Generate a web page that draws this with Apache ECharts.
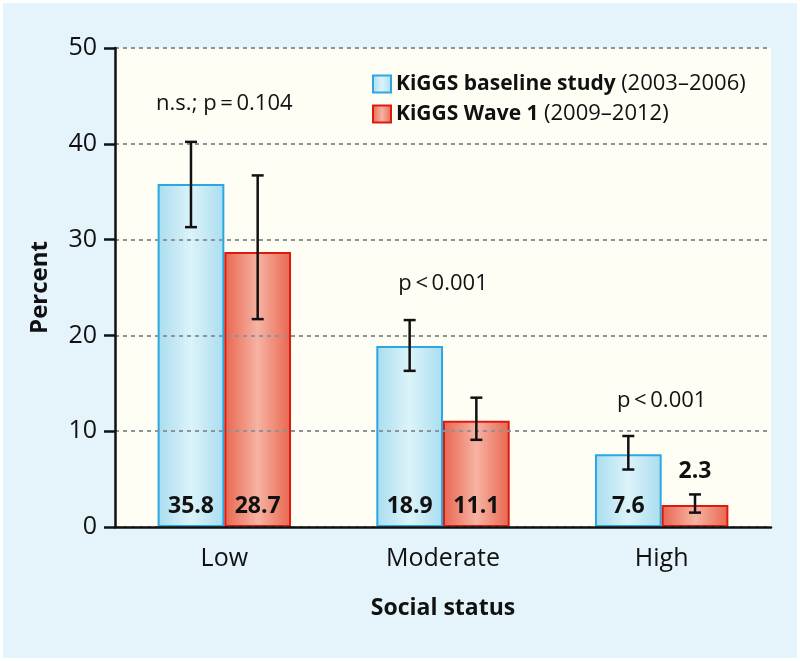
<!DOCTYPE html>
<html>
<head>
<meta charset="utf-8">
<script src="https://cdn.jsdelivr.net/npm/echarts@6/dist/echarts.min.js"></script>
<style>
  html, body { margin: 0; padding: 0; background: #fff; }
  #main { width: 800px; height: 661px; background: #e4f4fa; box-shadow: inset 0 0 0 3px #fff; }
</style>
</head>
<body>
<div id="main"></div>
<script>
const categorias = ['Low', 'Moderate', 'High'];
const baseline = [35.8, 18.9, 7.6];
const wave1 = [28.7, 11.1, 2.3];
// confidence intervals [low, high]
const baselineCI = [[31.3, 40.2], [16.3, 21.6], [6.0, 9.5]];
const wave1CI = [[21.7, 36.7], [9.1, 13.5], [1.5, 3.4]];
const yTicks = [0, 10, 20, 30, 40, 50];
const pTextos = ['n.s.; p\u2009=\u20090.104', 'p\u2009<\u20090.001', 'p\u2009<\u20090.001'];
const pAltura = [44.2, 25.4, 13.2];

const fonte = "'Open Sans', 'Noto Sans', sans-serif";
const gap = 0.39;

function gradiente(borda, centro) {
  return new echarts.graphic.LinearGradient(0, 0, 1, 0, [
    { offset: 0, color: borda },
    { offset: 0.5, color: centro },
    { offset: 1, color: borda }
  ]);
}

function barraErro(sinal) {
  return function (params, api) {
    const i = api.value(0);
    const banda = api.size([1, 0])[0];
    const off = sinal * banda * (1 - gap) / 4;
    const lo = api.coord([i, api.value(1)]);
    const hi = api.coord([i, api.value(2)]);
    const x = lo[0] + off;
    const cap = 6;
    const estilo = { stroke: '#111', lineWidth: 2.5, fill: null };
    return {
      type: 'group',
      children: [
        { type: 'line', shape: { x1: x, y1: lo[1], x2: x, y2: hi[1] }, style: estilo },
        { type: 'line', shape: { x1: x - cap, y1: lo[1], x2: x + cap, y2: lo[1] }, style: estilo },
        { type: 'line', shape: { x1: x - cap, y1: hi[1], x2: x + cap, y2: hi[1] }, style: estilo }
      ]
    };
  };
}

var myChart = echarts.init(document.getElementById('main'));
var option;

option = {
  textStyle: { fontFamily: fonte },
  animation: false,
  grid: {
    left: 115, right: 29, top: 48, bottom: 134,
    show: true, backgroundColor: '#fffef5', borderWidth: 0
  },
  legend: {
    orient: 'vertical',
    left: 367, top: 68,
    itemWidth: 18, itemHeight: 17, itemGap: 8,
    icon: 'rect',
    data: ['baseline', 'wave1'],
    formatter: function (n) {
      return n === 'baseline'
        ? '{b|KiGGS baseline study} {r|(2003\u20132006)}'
        : '{b|KiGGS Wave 1} {r|(2009\u20132012)}';
    },
    textStyle: {
      fontSize: 21,
      rich: {
        b: { fontFamily: fonte, fontWeight: 'bold', fontSize: 21, color: '#111' },
        r: { fontFamily: fonte, fontSize: 22, color: '#111' }
      }
    }
  },
  xAxis: {
    type: 'category',
    data: categorias,
    name: 'Social status',
    nameLocation: 'middle',
    nameGap: 70,
    nameTextStyle: { fontSize: 23, fontWeight: 'bold', color: '#111' },
    axisLine: { lineStyle: { color: '#111', width: 2.5 } },
    axisTick: { length: 11, lineStyle: { color: '#111', width: 2.5 } },
    axisLabel: { fontSize: 25, color: '#111', margin: 19 },
    z: 5
  },
  yAxis: {
    type: 'value',
    min: 0, max: 50, interval: 10,
    name: 'Percent',
    nameLocation: 'middle',
    nameGap: 63,
    nameTextStyle: { fontSize: 24, fontWeight: 'bold', color: '#111' },
    axisLine: { show: true, lineStyle: { color: '#111', width: 2.5 } },
    axisTick: { show: true, length: 11, lineStyle: { color: '#111', width: 2.5 } },
    axisLabel: {
      fontSize: 25, color: '#111', margin: 18,
      formatter: v => yTicks.includes(v) ? String(v) : ''
    },
    splitLine: { lineStyle: { color: '#8a9599', width: 2, type: [4, 4] } },
    z: 5
  },
  series: [
    {
      name: 'baseline',
      type: 'bar',
      data: baseline,
      barGap: 0,
      barCategoryGap: (gap * 100) + '%',
      itemStyle: { color: gradiente('#a9ddef', '#dcf3fa'), borderColor: '#2aa8e2', borderWidth: 2 },
      label: {
        show: true, position: 'insideBottom', distance: 9,
        fontSize: 23, fontWeight: 'bold', color: '#111', fontFamily: fonte
      }
    },
    {
      name: 'wave1',
      type: 'bar',
      data: wave1.map((v, i) => i === 2
        ? { value: v, label: { position: 'top', distance: 22 } }
        : v),
      itemStyle: { color: gradiente('#e9664f', '#f6b3a3'), borderColor: '#dd1a10', borderWidth: 2 },
      label: {
        show: true, position: 'insideBottom', distance: 9,
        fontSize: 23, fontWeight: 'bold', color: '#111', fontFamily: fonte
      }
    },
    {
      type: 'custom',
      name: 'baselineCI',
      renderItem: barraErro(-1),
      data: baselineCI.map((c, i) => [i, c[0], c[1]]),
      z: 10,
      markPoint: {
        symbol: 'circle', symbolSize: 0,
        label: {
          show: true, position: 'inside', fontSize: 22, color: '#111', fontFamily: fonte,
          formatter: p => p.name
        },
        data: pTextos.map((t, i) => ({ name: t, coord: [categorias[i], pAltura[i]] }))
      }
    },
    {
      type: 'custom',
      name: 'wave1CI',
      renderItem: barraErro(1),
      data: wave1CI.map((c, i) => [i, c[0], c[1]]),
      z: 10
    }
  ]
};

option && myChart.setOption(option);
</script>
</body>
</html>
